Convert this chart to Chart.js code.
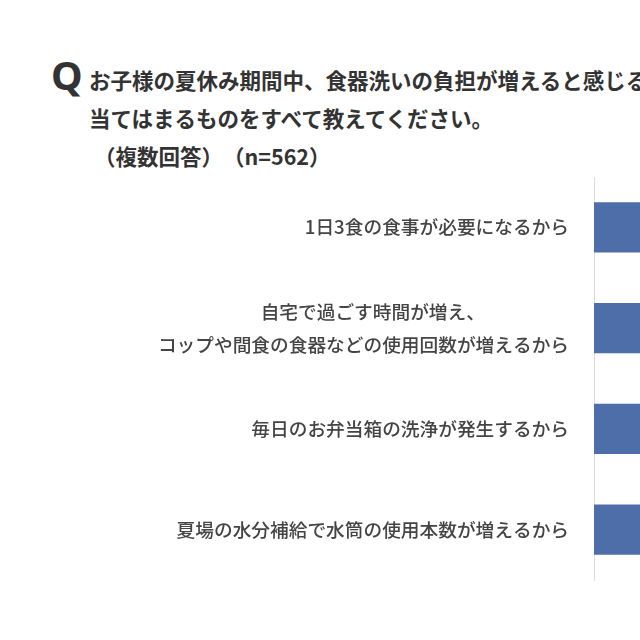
<!DOCTYPE html>
<html lang="ja">
<head>
<meta charset="utf-8">
<title>夏休みの食器洗い</title>
<script src="https://cdn.jsdelivr.net/npm/chart.js@4.4.1/dist/chart.umd.min.js"></script>
<style>
    body { margin: 0; width: 640px; height: 640px; overflow: hidden; background: #fff; position: relative; }
    .q { position: absolute; left: 51px; top: 47px; font: bold 40px "Noto Sans", "Noto Sans CJK JP", sans-serif; color: #333; }
    .t { position: absolute; left: 89px; white-space: nowrap; font: bold 21.5px "Noto Sans CJK JP", sans-serif; color: #333; line-height: 38px; }
    #wrap { position: absolute; left: 0; top: 170px; width: 1240px; height: 420px; }
</style>
</head>
<body>
<div class="q">Q</div>
<div class="t" style="top:61px">お子様の夏休み期間中、食器洗いの負担が増えると感じる理由として</div>
<div class="t" style="top:99px">当てはまるものをすべて教えてください。</div>
<div class="t" style="top:137px;left:94px">（複数回答）　（n=562）</div>
<div id="wrap"><canvas id="myChart" width="1240" height="420"></canvas></div>
<script>
    // answer options (the bars run off the right edge of the picture, values are estimates)
    // trailing full-width spaces keep the short first line centred over the second one
    const reasons = [
        ['1日3食の食事が必要になるから'],
        ['自宅で過ごす時間が増え、　　　　　', 'コップや間食の食器などの使用回数が増えるから'],
        ['毎日のお弁当箱の洗浄が発生するから'],
        ['夏場の水分補給で水筒の使用本数が増えるから']
    ]
    const shares = [72.8, 58.2, 41.3, 38.6]

    const AXIS_LEFT = 594
    let ctx = document.getElementById('myChart')

    let myChart = new Chart(ctx, {
        type: 'bar',
        data: {
            labels: reasons,
            datasets: [{
                data: shares,
                backgroundColor: '#4e6ea9',
                categoryPercentage: 1,
                barPercentage: 0.5
            }]
        },
        options: {
            indexAxis: 'y',
            responsive: false,
            animation: false,
            devicePixelRatio: 1,
            layout: { padding: { top: 7, bottom: 10, left: 0, right: 10 } },
            plugins: {
                legend: { display: false },
                tooltip: { enabled: false }
            },
            scales: {
                x: {
                    display: false,
                    min: 0,
                    max: 100
                },
                y: {
                    grid: { display: false },
                    border: { display: true, color: '#dcdcdc', width: 1 },
                    ticks: {
                        padding: 17,
                        color: '#444',
                        font: { family: '"Noto Sans CJK JP", sans-serif', size: 18.7, weight: '500', lineHeight: 1.76 }
                    },
                    // keep the axis at the same place as the original,
                    // and don't let the two-line label push the plot down
                    afterFit: function (scale) {
                        scale.width = AXIS_LEFT
                        scale.paddingTop = 0
                        scale.paddingBottom = 0
                    }
                }
            }
        }
    })
</script>
</body>
</html>
